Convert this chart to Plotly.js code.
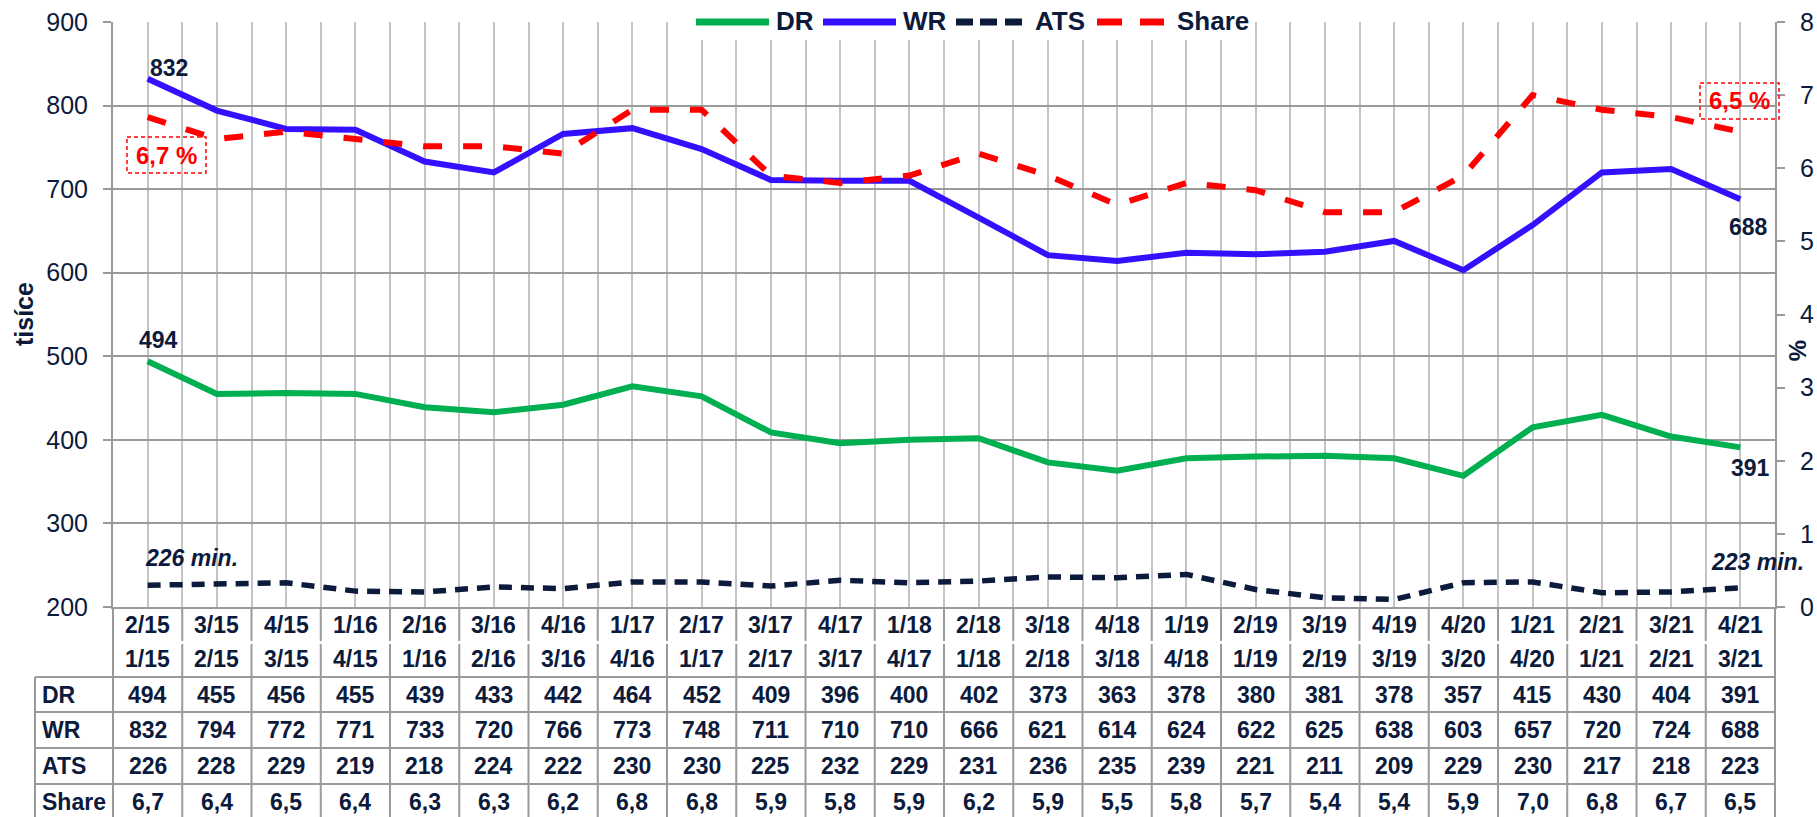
<!DOCTYPE html>
<html>
<head>
<meta charset="utf-8">
<script src="https://cdn.plot.ly/plotly-3.0.1.min.js"></script>
<style>html,body{margin:0;padding:0;background:#fff;}#chart{width:1817px;height:817px;}</style>
</head>
<body>
<div id="chart"></div>
<script>
// ---- data ----
const periodTop = ["2/15","3/15","4/15","1/16","2/16","3/16","4/16","1/17","2/17","3/17","4/17","1/18","2/18","3/18","4/18","1/19","2/19","3/19","4/19","4/20","1/21","2/21","3/21","4/21"];
const periodBottom = ["1/15","2/15","3/15","4/15","1/16","2/16","3/16","4/16","1/17","2/17","3/17","4/17","1/18","2/18","3/18","4/18","1/19","2/19","3/19","3/20","4/20","1/21","2/21","3/21"];
const dr = [494,455,456,455,439,433,442,464,452,409,396,400,402,373,363,378,380,381,378,357,415,430,404,391];
const wr = [832,794,772,771,733,720,766,773,748,711,710,710,666,621,614,624,622,625,638,603,657,720,724,688];
const ats = [226,228,229,219,218,224,222,230,230,225,232,229,231,236,235,239,221,211,209,229,230,217,218,223];
const share = [6.7,6.4,6.5,6.4,6.3,6.3,6.2,6.8,6.8,5.9,5.8,5.9,6.2,5.9,5.5,5.8,5.7,5.4,5.4,5.9,7.0,6.8,6.7,6.5];
const seriesNames = ["DR","WR","ATS","Share"];

// ---- styling ----
const FONT = 'Liberation Sans, Arial, sans-serif';
const NAVY = '#0c1a3c';
const GREEN = '#00b050', BLUE = '#3311ff', RED = '#ff0000';
const L = 113, R = 1775, T = 22, B = 607;
const W = R - L, H = B - T;
const px = p => (p - L) / W;
const py = p => (B - p) / H;
const fmt = v => v.toFixed(1).replace('.', ',');
const idx = dr.map((_, i) => i);
const n = idx.length;

const traces = [
  {x: idx, y: dr, name: 'DR', mode: 'lines', line: {color: GREEN, width: 6}, hoverinfo: 'skip'},
  {x: idx, y: wr, name: 'WR', mode: 'lines', line: {color: BLUE, width: 6}, hoverinfo: 'skip'},
  {x: idx, y: ats, name: 'ATS', mode: 'lines', line: {color: NAVY, width: 5.5, dash: '13px,9px'}, hoverinfo: 'skip'},
  {x: idx, y: share, name: 'Share', mode: 'lines', yaxis: 'y2', line: {color: RED, width: 6, dash: '19px,21px'}, hoverinfo: 'skip'}
];

const annotations = [];
const shapes = [];
const bold = (size, color) => ({family: FONT, size: size, color: color || NAVY, weight: 'bold'});

// data labels
function lab(text, x, y, yref, xs, ys, font) {
  annotations.push({text: text, x: x, y: y, xref: 'x', yref: yref, xanchor: 'center', yanchor: 'middle',
    xshift: xs, yshift: ys, showarrow: false, font: font});
}
const last = n - 1;
lab('<b>' + wr[0] + '</b>', 0, wr[0], 'y', 21, 11, bold(23));
lab('<b>' + dr[0] + '</b>', 0, dr[0], 'y', 11, 21, bold(23));
lab('<b>' + wr[last] + '</b>', last, wr[last], 'y', 8, -28, bold(23));
lab('<b>' + dr[last] + '</b>', last, dr[last], 'y', 10, -21, bold(23));
lab('<b><i>' + ats[0] + ' min.</i></b>', 0, ats[0], 'y', 44, 27, bold(23));
lab('<b><i>' + ats[last] + ' min.</i></b>', last, ats[last], 'y', 17, 26, bold(23));
lab('<b>' + fmt(share[0]) + ' %</b>', 0, share[0], 'y2', 19, -38, bold(24, RED));
lab('<b>' + fmt(share[last]) + ' %</b>', last, share[last], 'y2', -1, 31, bold(24, RED));

// dashed red boxes
function box(x0, y0, x1, y1) {
  shapes.push({type: 'rect', xref: 'paper', yref: 'paper', x0: px(x0), x1: px(x1), y0: py(y0), y1: py(y1),
    line: {color: RED, width: 1.5, dash: '4px,3px'}, fillcolor: 'rgba(0,0,0,0)', layer: 'above'});
}
box(127, 137, 206, 173);
box(1700, 83, 1779, 119);

// custom legend
shapes.push({type: 'rect', xref: 'paper', yref: 'paper', x0: px(684), x1: px(1251), y0: py(40), y1: py(3),
  fillcolor: '#ffffff', line: {width: 0}, layer: 'above'});
function seg(x0, x1, color) {
  shapes.push({type: 'line', xref: 'paper', yref: 'paper', x0: px(x0), x1: px(x1), y0: py(22), y1: py(22),
    line: {color: color, width: 7}, layer: 'above'});
}
seg(696, 769, GREEN);
seg(823, 896, BLUE);
seg(956, 973, NAVY); seg(980, 997, NAVY); seg(1005, 1022, NAVY);
seg(1097, 1122, RED); seg(1140, 1164, RED);
const legX = [775, 902, 1034, 1176];
seriesNames.forEach((s, i) => {
  annotations.push({text: '<b>' + s + '</b>', xref: 'paper', yref: 'paper', x: px(legX[i]), y: py(21),
    xanchor: 'left', yanchor: 'middle', showarrow: false, font: bold(26), borderpad: 0});
});

// axis titles
annotations.push({text: '<b>tisíce</b>', xref: 'paper', yref: 'paper', x: px(24), y: py(314), textangle: -90,
  xanchor: 'center', yanchor: 'middle', showarrow: false, font: bold(25)});
annotations.push({text: '<b>%</b>', xref: 'paper', yref: 'paper', x: px(1798), y: py(350), textangle: 90,
  xanchor: 'center', yanchor: 'middle', showarrow: false, font: bold(24)});

// table
const GRID = '#9a9a9a';
const rowCenters = [625, 659, 695, 730, 766, 802];
const rows = [periodTop, periodBottom, dr, wr, ats, share.map(fmt)];
rows.forEach((row, r) => {
  row.forEach((v, i) => {
    annotations.push({text: '<b>' + v + '</b>', xref: 'x', yref: 'paper', x: i, y: py(rowCenters[r]),
      xanchor: 'center', yanchor: 'middle', showarrow: false, font: bold(23)});
  });
});
seriesNames.forEach((s, k) => {
  annotations.push({text: '<b>' + s + '</b>', xref: 'paper', yref: 'paper', x: px(40), y: py(rowCenters[k + 2]),
    xanchor: 'left', yanchor: 'middle', showarrow: false, font: bold(23)});
});
function tline(x0, y0, x1, y1) {
  shapes.push({type: 'line', xref: 'paper', yref: 'paper', x0: px(x0), x1: px(x1), y0: py(y0), y1: py(y1),
    line: {color: GRID, width: 2}, layer: 'above'});
}
[677, 712, 748, 784].forEach(y => tline(35, y, R, y));
tline(35, 677, 35, 820);
for (let i = 0; i <= n; i++) {
  const xp = L + W * i / n;
  if (i === 0 || i === n) {
    tline(xp, B, xp, 820);
  } else {
    tline(xp, B, xp, 641);
    tline(xp, 644, xp, 820);
  }
}

const tickfont = {family: FONT, size: 25, color: NAVY};
const layout = {
  width: 1817, height: 817,
  margin: {l: L, r: 1817 - R, t: T, b: 817 - B, pad: 0},
  paper_bgcolor: '#ffffff', plot_bgcolor: '#ffffff',
  showlegend: false,
  font: {family: FONT, color: NAVY},
  xaxis: {range: [-0.5, n - 0.5], tickmode: 'linear', tick0: -0.5, dtick: 0.5, showticklabels: false,
    showgrid: true, gridcolor: '#c4c4c4', gridwidth: 2, zeroline: false, showline: true, linecolor: GRID, linewidth: 2,
    ticks: '', fixedrange: true},
  yaxis: {range: [200, 900], tickmode: 'linear', tick0: 200, dtick: 100, showgrid: true, gridcolor: GRID, gridwidth: 2,
    zeroline: false, showline: true, linecolor: GRID, linewidth: 2, ticks: 'outside', ticklen: 8, tickcolor: GRID,
    tickwidth: 2, tickfont: tickfont, ticklabelstandoff: 10, fixedrange: true},
  yaxis2: {range: [0, 8], tickmode: 'linear', tick0: 0, dtick: 1, overlaying: 'y', side: 'right', showgrid: false,
    zeroline: false, showline: true, linecolor: GRID, linewidth: 2, ticks: 'outside', ticklen: 8, tickcolor: GRID,
    tickwidth: 2, tickfont: tickfont, ticklabelstandoff: 10, fixedrange: true},
  annotations: annotations,
  shapes: shapes
};
Plotly.newPlot('chart', traces, layout, {displayModeBar: false, staticPlot: true});
</script>
</body>
</html>
